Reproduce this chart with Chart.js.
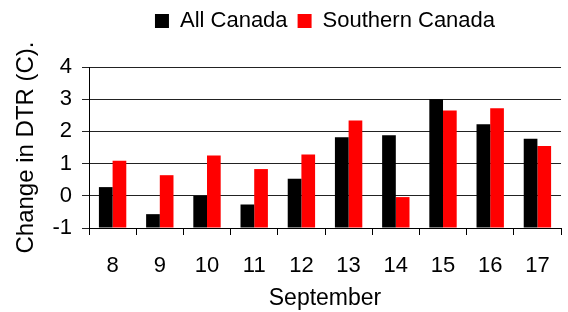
<!DOCTYPE html>
<html>
<head>
<meta charset="utf-8">
<script src="https://cdn.jsdelivr.net/npm/chart.js@4/dist/chart.umd.min.js"></script>
<style>
  html, body { margin: 0; padding: 0; background: #fff; }
  #wrap { width: 568px; height: 312px; }
</style>
</head>
<body>
<div id="wrap"><canvas id="c" width="568" height="312"></canvas></div>
<script>
const categories = ['8', '9', '10', '11', '12', '13', '14', '15', '16', '17'];
const allCanada = [0.27, -0.57, 0.0, -0.27, 0.53, 1.82, 1.88, 3.0, 2.22, 1.77];
const southernCanada = [1.09, 0.64, 1.25, 0.83, 1.28, 2.34, -0.04, 2.65, 2.72, 1.55];
const yTicks = [-1, 0, 1, 2, 3, 4];
const seriesNames = ['All Canada', 'Southern Canada'];
const xTitle = 'September';
const yTitle = 'Change in DTR (C).';

const FONT = "'Liberation Sans', Arial, sans-serif";

const legendHeightPlugin = {
  id: 'legendHeight',
  beforeInit(chart) {
    const orig = chart.legend.fit;
    chart.legend.fit = function () {
      orig.call(this);
      this.height = 67;
    };
  }
};

new Chart(document.getElementById('c'), {
  type: 'bar',
  data: {
    labels: categories,
    datasets: [
      { label: seriesNames[0], data: allCanada, backgroundColor: '#000000', base: -1,
        categoryPercentage: 0.58, barPercentage: 1.0 },
      { label: seriesNames[1], data: southernCanada, backgroundColor: '#ff0000', base: -1,
        categoryPercentage: 0.58, barPercentage: 1.0 }
    ]
  },
  options: {
    responsive: false,
    animation: false,
    events: [],
    layout: { padding: { left: 0, right: 0, top: 0, bottom: 0 } },
    plugins: {
      tooltip: { enabled: false },
      legend: {
        position: 'top',
        align: 'center',
        fullSize: false,
        labels: {
          boxWidth: 14, boxHeight: 14, padding: 10,
          color: '#000',
          font: { family: FONT, size: 22 }
        }
      }
    },
    scales: {
      x: {
        offset: true,
        grid: { display: true, offset: true, drawOnChartArea: false, drawTicks: true, tickLength: 7, color: '#000' },
        border: { display: true, color: '#000', width: 1 },
        ticks: { color: '#000', font: { family: FONT, size: 22 }, padding: 18, maxRotation: 0 },
        title: { display: true, text: xTitle, color: '#000', font: { family: FONT, size: 23 }, padding: { top: 4, bottom: 0 } },
        afterFit(scale) { scale.height = 84; }
      },
      y: {
        min: -1, max: 4,
        afterBuildTicks(scale) { scale.ticks = yTicks.map(v => ({ value: v })); },
        grid: { color: '#222', lineWidth: 1, drawTicks: true, tickLength: 7 },
        border: { display: true, color: '#000', width: 1 },
        ticks: { color: '#000', font: { family: FONT, size: 22 }, padding: 10 },
        title: { display: true, text: yTitle, color: '#000', font: { family: FONT, size: 24 }, padding: { top: 12, bottom: 0 } },
        afterFit(scale) { scale.width = 89; }
      }
    }
  },
  plugins: [legendHeightPlugin]
});
</script>
</body>
</html>
